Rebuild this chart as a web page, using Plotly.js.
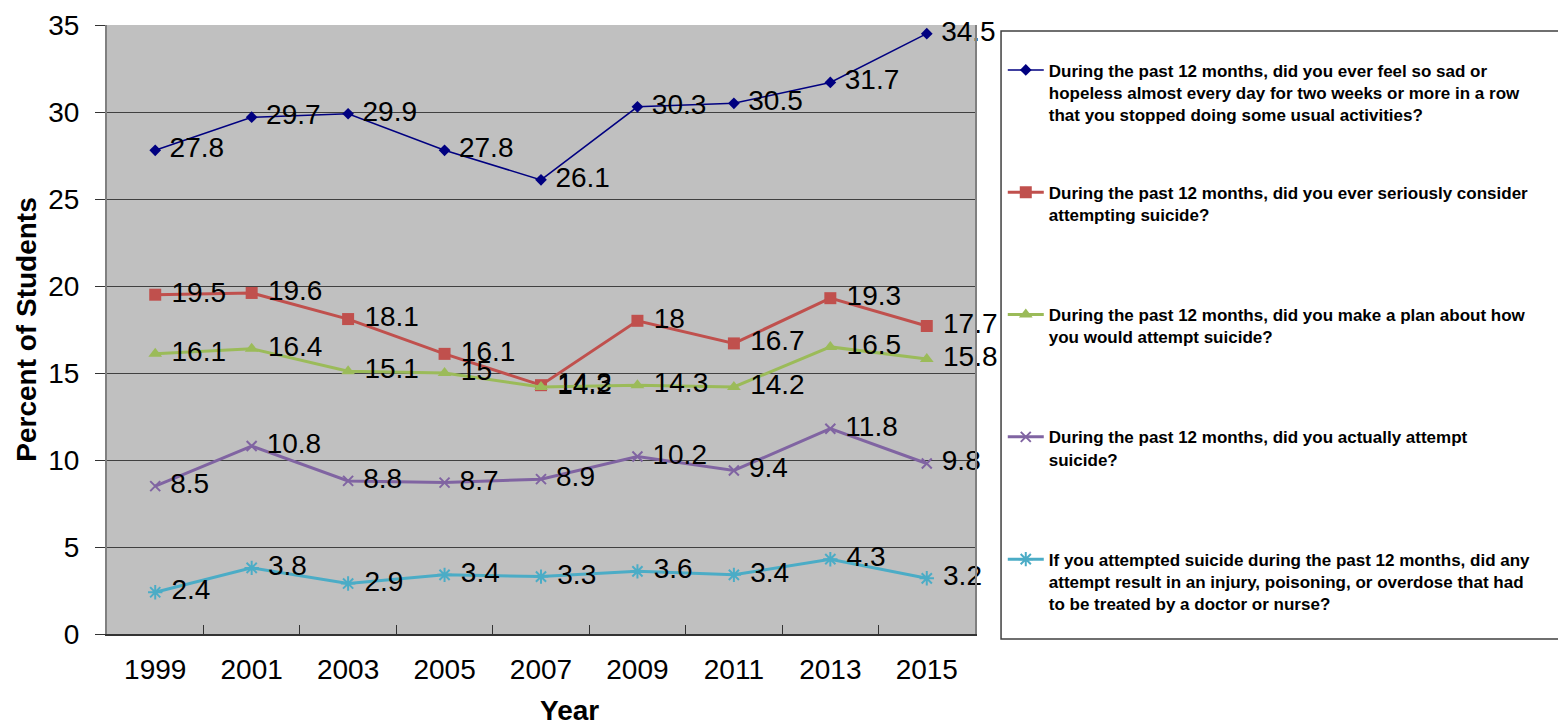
<!DOCTYPE html>
<html>
<head>
<meta charset="utf-8">
<script src="https://cdn.plot.ly/plotly-3.0.1.min.js"></script>
<style>html,body{margin:0;padding:0;background:#fff;}#chart{width:1558px;height:725px;}</style>
</head>
<body>
<div id="chart"></div>
<script>
const years = ["1999","2001","2003","2005","2007","2009","2011","2013","2015"];
const sadHopeless = [27.8, 29.7, 29.9, 27.8, 26.1, 30.3, 30.5, 31.7, 34.5];
const consideredSuicide = [19.5, 19.6, 18.1, 16.1, 14.3, 18, 16.7, 19.3, 17.7];
const madePlan = [16.1, 16.4, 15.1, 15, 14.2, 14.3, 14.2, 16.5, 15.8];
const attemptedSuicide = [8.5, 10.8, 8.8, 8.7, 8.9, 10.2, 9.4, 11.8, 9.8];
const injuredByAttempt = [2.4, 3.8, 2.9, 3.4, 3.3, 3.6, 3.4, 4.3, 3.2];
const seriesNames = [
  "During the past 12 months, did you ever feel so sad or<br>hopeless almost every day for two weeks or more in a row<br>that you stopped doing some usual activities?",
  "During the past 12 months, did you ever seriously consider<br>attempting suicide?<br>\u00a0",
  "During the past 12 months, did you make a plan about how<br>you would attempt suicide?<br>\u00a0",
  "During the past 12 months, did you actually attempt<br>suicide?<br>\u00a0",
  "If you attempted suicide during the past 12 months, did any<br>attempt result in an injury, poisoning, or overdose that had<br>to be treated by a doctor or nurse?"
];
const FONT = "Liberation Sans, Arial, sans-serif";

function mk(vals, i, color, lw, sym, size) {
  return {
    type: "scatter", mode: "lines+markers+text",
    x: years, y: vals, name: seriesNames[i], legendgroup: "g" + i,
    text: vals.map(v => "\u00a0" + String(v)), textposition: "middle right",
    textfont: {family: FONT, size: 28, color: "#000"},
    line: {color: color, width: lw},
    marker: {symbol: sym, size: size, color: color, line: {color: color, width: sym.indexOf("open") >= 0 ? 2 : 0}},
    cliponaxis: false
  };
}

const data = [
  mk(sadHopeless, 0, "#000080", 1.5, "diamond", 9),
  mk(consideredSuicide, 1, "#c0504d", 3, "square", 12),
  mk(madePlan, 2, "#9bbb59", 3, "triangle-up", 12),
  mk(attemptedSuicide, 3, "#8064a2", 3, "x-thin-open", 10),
  mk(injuredByAttempt, 4, "#4bacc6", 3, "asterisk-open", 12)
];

const layout = {
  width: 1558, height: 725,
  margin: {l: 107, r: 583, t: 25, b: 91, autoexpand: false},
  paper_bgcolor: "#ffffff", plot_bgcolor: "#c0c0c0",
  font: {family: FONT, color: "#000"},
  showlegend: true,
  xaxis: {
    type: "category", tickson: "boundaries", ticks: "inside", ticklen: 9, tickcolor: "#333",
    showline: true, linecolor: "#333", linewidth: 1.5, mirror: false,
    showgrid: false, tickfont: {family: FONT, size: 28}, ticklabelstandoff: 10,
    range: [-0.5, 8.5]
  },
  yaxis: {
    range: [0, 35], dtick: 5, tick0: 0, ticks: "outside", ticklen: 10, tickcolor: "#333",
    showline: true, linecolor: "#808080", linewidth: 2, mirror: true,
    showgrid: true, gridcolor: "#404040", gridwidth: 1, zeroline: false,
    tickfont: {family: FONT, size: 28}, ticklabelstandoff: 10,
    title: {text: "<b>Percent of Students</b>", font: {family: FONT, size: 28}, standoff: 3}
  },
  legend: {
    x: 1.032, xanchor: "left", y: 0.955, yanchor: "top",
    bgcolor: "rgba(0,0,0,0)", borderwidth: 0,
    font: {family: FONT, size: 17, color: "#000", weight: "bold"},
    tracegroupgap: 53, valign: "top", itemwidth: 36,
    traceorder: "grouped"
  },
  shapes: [
    {type: "rect", xref: "paper", yref: "paper", x0: 1.03, x1: 1.72, y0: -0.0082, y1: 0.990,
     line: {color: "#404040", width: 1.5}, fillcolor: "rgba(255,255,255,0)", layer: "below"}
  ],
  annotations: [
    {text: "<b>Year</b>", xref: "paper", yref: "paper", x: 0.533, y: -0.1264, xanchor: "center", yanchor: "middle",
     showarrow: false, font: {family: FONT, size: 28, color: "#000"}}
  ]
};

Plotly.newPlot("chart", data, layout, {displayModeBar: false, staticPlot: true});
</script>
</body>
</html>
